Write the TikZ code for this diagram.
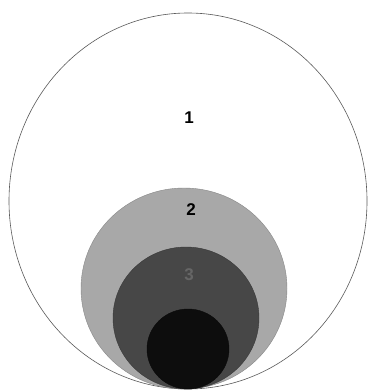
\documentclass[tikz,border=0pt]{standalone}
\usepackage{fontspec}
\setsansfont{Liberation Sans}
\usepackage{xcolor}
\usepackage{tikz}

\definecolor{zoneB}{gray}{0.66}
\definecolor{zoneC}{gray}{0.28}
\definecolor{zoneD}{gray}{0.05}
\definecolor{zoneCtext}{gray}{0.40}

\begin{document}
\begin{tikzpicture}[x=1pt, y=-1pt,
    numlbl/.style={font=\sffamily\bfseries\fontsize{17}{17}\selectfont, inner sep=0pt}]
				\useasboundingbox (0,0) rectangle (368,390);
				
				% outer circle
				\draw[black!65, line width=0.6pt] (188,201) ellipse [x radius=179, y radius=188];
				
				% nested circles, all touching at the bottom
				\foreach \cx/\cy/\rx/\ry/\tone in {184/288.5/103/100.5/zoneB, 186/318/73/71/zoneC, 188/349/41/40/zoneD} {
					\fill[\tone] (\cx,\cy) ellipse [x radius=\rx, y radius=\ry];
					\draw[\tone!80!black, line width=0.4pt] (\cx,\cy) ellipse [x radius=\rx, y radius=\ry];
				}
				
				\node[numlbl] (one) at (189,118) {1};
				\node[numlbl] (two) at (191,210) {2};
				\node[numlbl, text=zoneCtext] (three) at (189,275) {3};
			\end{tikzpicture}
\end{document}
